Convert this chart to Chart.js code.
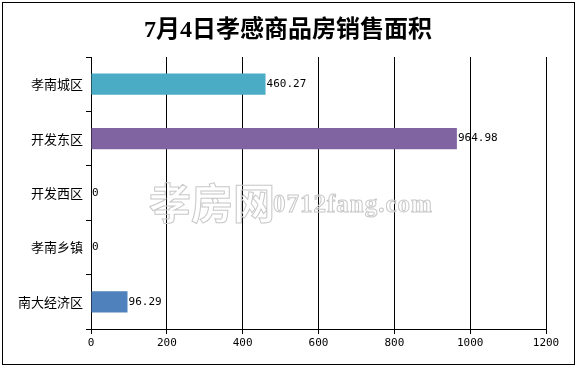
<!DOCTYPE html>
<html>
<head>
<meta charset="utf-8">
<script src="https://cdn.jsdelivr.net/npm/chart.js@4/dist/chart.umd.min.js"></script>
<style>
  html, body { margin: 0; padding: 0; background: #fff; }
  #wrap { width: 576px; height: 366px; }
</style>
</head>
<body>
<div id="wrap"><canvas id="grafico" width="576" height="366"></canvas></div>
<script>
const titulo = "7月4日孝感商品房销售面积";
const areas = ["孝南城区", "开发东区", "开发西区", "孝南乡镇", "南大经济区"];
const metros = [460.27, 964.98, 0, 0, 96.29];
const etiquetas = ["460.27", "964.98", "0", "0", "96.29"];
const colores = ["#4bacc6", "#8064a2", "#4bacc6", "#4bacc6", "#4f81bd"];
const ejeX = { min: 0, max: 1200, paso: 200 };

const fuenteCJK = "'Noto Sans CJK SC', 'Noto Sans', sans-serif";
const fuenteNum = "'DejaVu Sans Mono', monospace";

// marco, marca de agua y etiquetas de valor
const extras = {
  id: "extras",
  beforeDraw(chart) {
    const c = chart.ctx;
    c.save();
    c.fillStyle = "#fff";
    c.fillRect(0, 0, chart.width, chart.height);
    c.restore();
  },
  afterDatasetsDraw(chart) {
    const c = chart.ctx;
    const meta = chart.getDatasetMeta(0);
    c.save();
    c.font = "11px " + fuenteNum;
    c.fillStyle = "#000";
    c.textAlign = "left";
    c.textBaseline = "middle";
    meta.data.forEach((bar, i) => {
      c.fillText(etiquetas[i], bar.x + 1, bar.y);
    });
    c.restore();
  },
  afterDraw(chart) {
    const c = chart.ctx;
    c.save();
    // marca de agua
    c.strokeStyle = "#c8c8c8";
    c.lineWidth = 1;
    c.textBaseline = "alphabetic";
    c.font = "bold 42px " + fuenteCJK;
    c.strokeText("孝房网", 149, 219);
    c.font = "bold 25px 'Liberation Serif', serif";
    c.letterSpacing = "1px";
    c.strokeText("0712fang.com", 273, 212);
    c.letterSpacing = "0px";
    // marco
    c.strokeStyle = "#000";
    c.lineWidth = 1;
    c.strokeRect(2.5, 2.5, 572, 362);
    c.restore();
  }
};

const ctx = document.getElementById("grafico").getContext("2d");
const chart = new Chart(ctx, {
  type: "bar",
  data: {
    labels: areas,
    datasets: [{
      data: metros,
      backgroundColor: colores,
      borderWidth: 0,
      barPercentage: 0.39,
      categoryPercentage: 1
    }]
  },
  options: {
    indexAxis: "y",
    responsive: false,
    animation: false,
    layout: { padding: 0 },
    plugins: {
      legend: { display: false },
      tooltip: { enabled: false },
      title: {
        display: true,
        text: titulo,
        color: "#000",
        font: { family: "'Liberation Serif', " + fuenteCJK, size: 24, weight: "bold", lineHeight: 1.2 },
        padding: { top: 16, bottom: 12.2 }
      }
    },
    scales: {
      x: {
        min: ejeX.min,
        max: ejeX.max,
        ticks: {
          stepSize: ejeX.paso,
          color: "#000",
          font: { family: fuenteNum, size: 11 },
          padding: 3,
          callback: (v) => String(v)
        },
        grid: { color: "#000", lineWidth: 1, tickLength: 5, drawOnChartArea: true },
        border: { display: true, color: "#000", width: 1 },
        afterFit(scale) { scale.height = 37; }
      },
      y: {
        ticks: {
          color: "#000",
          font: { family: fuenteCJK, size: 13 },
          padding: 3
        },
        grid: { color: "#000", lineWidth: 1, tickLength: 5, drawOnChartArea: false, offset: true },
        border: { display: true, color: "#000", width: 1 },
        afterFit(scale) { scale.width = 91; }
      },
      // eje vacío a la derecha, solo reserva el margen
      margen: {
        type: "category",
        position: "right",
        labels: areas,
        ticks: { display: false },
        grid: { display: false },
        border: { display: false },
        afterFit(scale) { scale.width = 30; }
      }
    }
  },
  plugins: [extras]
});
</script>
</body>
</html>
